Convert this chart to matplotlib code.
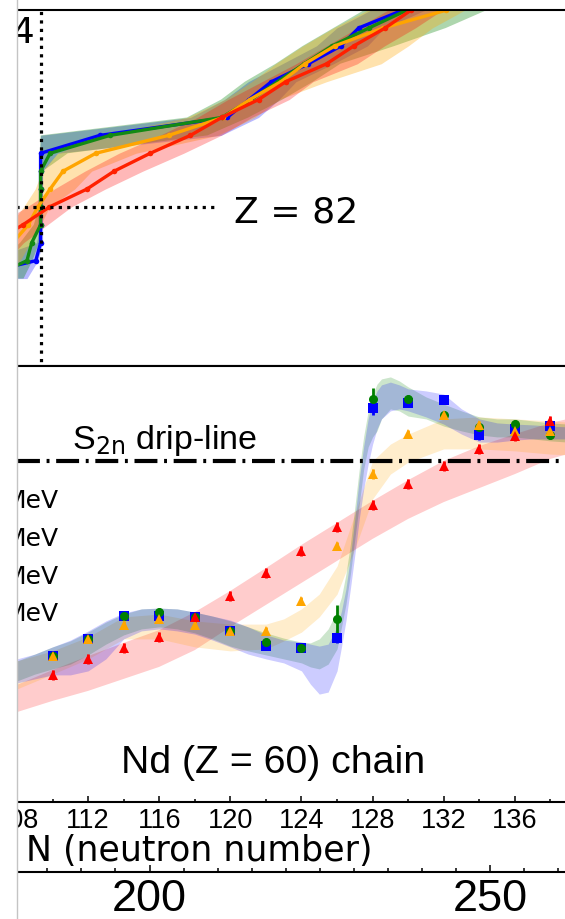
import numpy as np
import matplotlib
matplotlib.use("Agg")
import matplotlib.pyplot as plt
from matplotlib.lines import Line2D
from matplotlib.patches import Rectangle

W, H = 565, 920

# ---------------- drip-line panel: N_drip(Z) for four models ----------------
Z_drip = [74, 76, 78, 80, 82, 84, 86, 88, 90, 92, 94, 96, 98, 100, 102, 104, 106]
N_blue = [172.4, 183.3, 184.0, 184.0, 184.0, 184.0, 184.0, 184.0, 192.7, 211.4,
          214.6, 217.9, 223.3, 228.1, 230.7, 237.2, 242.0]
N_green = [176.4, 182.0, 182.7, 184.0, 184.0, 184.0, 184.0, 185.4, 194.2, 210.6,
           214.9, 218.8, 222.7, 226.8, 232.2, 237.8, 244.0]
N_orange = [176.0, 178.0, 179.9, 182.2, 183.6, 185.4, 187.3, 192.1, 202.8, 210.8,
            214.7, 219.3, 222.8, 227.2, 234.3, 243.6, 250.0]
N_red = [170.0, 173.0, 176.9, 181.4, 185.3, 190.8, 194.8, 200.1, 206.0, 210.6,
         216.0, 220.0, 226.0, 230.0, 234.6, 238.4, 243.0]

blue_lo = [168, 176, 183.4, 183.9, 183.9, 183.9, 183.9, 183.9, 184.0, 206.0, 211.0,
           214.5, 219.5, 224.5, 227.5, 232.5, 237.0]
blue_hi = [182.0, 183.6, 184.3, 184.3, 184.3, 184.3, 184.3, 186.5, 210.5, 216.0, 219.0,
           221.5, 227.0, 232.0, 234.5, 240.5, 246.0]
green_lo = [172, 178, 181.0, 183.0, 183.8, 183.9, 183.9, 183.9, 184.0, 205.5, 210.5,
            214.0, 218.5, 222.5, 227.0, 231.5, 236.0]
green_hi = [181.5, 182.8, 183.8, 184.2, 184.3, 184.3, 184.3, 188.0, 208.5, 214.5, 219.5,
            224.0, 228.0, 236.0, 243.5, 249.5, 255.0]
orange_lo = [171, 175, 177, 179.5, 181.5, 183.2, 184.2, 186.5, 193.0, 205.5, 211.0,
             215.0, 218.5, 222.5, 227.0, 232.0, 237.0]
orange_hi = [178, 181, 182.5, 184.0, 185.3, 189.0, 191.5, 198.0, 210.0, 215.5, 219.0,
             226.0, 234.0, 238.0, 241.5, 246.3, 250.0]
red_lo = [166, 169.5, 173.0, 177.5, 182.0, 186.0, 190.5, 195.5, 201.5, 207.0, 211.5,
          216.5, 221.5, 226.0, 230.5, 235.0, 239.0]
red_hi = [175, 179.0, 181.5, 185.0, 188.5, 193.5, 199.0, 205.0, 210.5, 215.0, 220.5,
          224.0, 230.5, 234.5, 239.0, 243.0, 247.0]

N_magic = 184
Z_magic = 82

# ---------------- Nd chain: S2n (MeV) vs neutron number ----------------
N_nd = [110, 112, 114, 116, 118, 120, 122, 124, 126, 128, 130, 132, 134, 136, 138]
s2n_blue = [-4.89, -4.46, -3.89, -3.89, -3.91, -4.26, -4.64, -4.69, -4.44, 1.31,
            1.44, 1.51, 0.64, 0.79, 0.86]
s2n_green = [-4.89, -4.46, -3.89, -3.79, -3.91, -4.26, -4.54, -4.69, -3.96, 1.54,
             1.54, 1.14, 0.84, 0.91, 0.64]
s2n_orange = [-4.89, -4.46, -4.11, -3.96, -4.11, -4.26, -4.26, -3.51, -2.14, -0.34,
              0.66, 1.14, 0.89, 0.74, 0.74]
s2n_red = [-5.36, -4.96, -4.69, -4.41, -3.91, -3.39, -2.81, -2.26, -1.66, -1.11,
           -0.59, -0.14, 0.29, 0.61, 0.99]
err_blue = [0.1, 0.1, 0.1, 0.1, 0.1, 0.1, 0.1, 0.1, 0.12, 0.18, 0.1, 0.1, 0.12, 0.1, 0.1]
err_green = [0.1, 0.1, 0.1, 0.1, 0.1, 0.1, 0.1, 0.1, 0.36, 0.28, 0.1, 0.1, 0.1, 0.1, 0.1]
err_orange = [0.1, 0.1, 0.1, 0.1, 0.1, 0.1, 0.1, 0.1, 0.1, 0.12, 0.1, 0.1, 0.1, 0.1, 0.1]
err_red = [0.12, 0.12, 0.12, 0.12, 0.12, 0.12, 0.12, 0.12, 0.12, 0.12, 0.12, 0.12,
           0.12, 0.12, 0.12]

# credible bands
N_bg = [108, 109, 110, 111, 112, 113, 114, 115, 116, 117, 118, 119, 120, 121, 122, 123,
        124, 124.5, 125, 125.5, 126, 126.25, 126.5, 126.75, 127, 127.25, 127.5, 127.75,
        128, 128.25, 128.5, 129, 129.5, 130, 131, 132, 133, 134, 135, 136, 137, 138, 139]
band_blue_hi = [-4.96, -4.84, -4.66, -4.49, -4.26, -4.01, -3.81, -3.71, -3.69, -3.71,
                -3.79, -3.89, -3.99, -4.16, -4.36, -4.49, -4.54, -4.59, -4.64, -4.59,
                -4.16, -3.76, -3.21, -2.41, -1.46, -0.46, 0.36, 1.04, 1.49, 1.74, 1.89,
                1.96, 1.89, 1.79, 1.74, 1.66, 1.29, 1.04, 0.94, 0.91, 0.89, 0.86, 0.84]
band_blue_lo = [-5.56, -5.46, -5.36, -5.36, -5.26, -4.96, -4.46, -4.26, -4.21, -4.26,
                -4.34, -4.49, -4.66, -4.84, -4.96, -5.06, -5.26, -5.59, -5.84, -5.79,
                -5.26, -4.66, -4.01, -3.21, -2.36, -1.46, -0.71, -0.09, 0.41, 0.79, 1.04,
                1.24, 1.29, 1.24, 1.09, 0.91, 0.66, 0.46, 0.46, 0.51, 0.54, 0.54, 0.54]
band_green_hi = [-5.01, -4.84, -4.66, -4.51, -4.29, -4.04, -3.84, -3.71, -3.69, -3.71,
                 -3.79, -3.89, -4.01, -4.16, -4.31, -4.44, -4.54, -4.56, -4.46, -4.21,
                 -3.76, -3.41, -2.84, -2.09, -1.16, -0.21, 0.61, 1.24, 1.66, 1.91, 2.04,
                 2.09, 1.99, 1.84, 1.59, 1.41, 1.24, 1.09, 1.04, 1.04, 0.99, 0.94, 0.91]
band_green_lo = [-5.51, -5.34, -5.21, -5.09, -4.86, -4.59, -4.36, -4.21, -4.16, -4.21,
                 -4.31, -4.46, -4.64, -4.76, -4.86, -4.96, -5.06, -5.16, -5.21, -5.09,
                 -4.71, -4.16, -3.59, -2.84, -1.96, -1.09, -0.21, 0.34, 0.59, 0.74, 1.04,
                 1.29, 1.24, 1.11, 1.04, 0.86, 0.74, 0.64, 0.59, 0.59, 0.54, 0.49, 0.46]
N_or = [108, 110, 112, 114, 116, 118, 120, 122, 123, 124, 125, 126, 127, 128, 129, 130,
        132, 134, 136, 138, 139]
band_orange_hi = [-5.01, -4.76, -4.41, -3.91, -3.84, -4.01, -4.09, -4.09, -3.96, -3.71,
                  -3.34, -2.64, -1.34, -0.01, 0.41, 0.66, 1.04, 1.09, 1.04, 0.99, 0.96]
band_orange_lo = [-5.71, -5.34, -4.96, -4.46, -4.46, -4.66, -4.76, -4.71, -4.51, -4.29,
                  -3.91, -3.34, -2.21, -0.96, -0.34, -0.04, 0.29, 0.29, 0.24, 0.16, 0.14]
N_rd = [108, 110, 112, 114, 116, 118, 120, 122, 124, 126, 128, 130, 132, 134, 136, 138, 140]
band_red_hi = [-5.61, -5.24, -4.89, -4.56, -4.24, -3.79, -3.26, -2.69, -2.11, -1.56,
               -1.01, -0.49, -0.01, 0.36, 0.66, 0.94, 1.14]
band_red_lo = [-6.29, -6.01, -5.76, -5.46, -5.16, -4.74, -4.16, -3.61, -3.06, -2.51,
               -1.96, -1.46, -1.04, -0.69, -0.34, 0.04, 0.29]

C_BLUE, C_GREEN, C_ORANGE, C_RED = "#0000ff", "#008000", "#ffa500", "#ff0000"


def fx(px):
    return px / W


def fy(py):
    return 1 - py / H


fig = plt.figure(figsize=(W / 100, H / 100), dpi=100)
left = fx(17)

# ---------------- top panel ----------------
ax1 = fig.add_axes([left, fy(367), 1 - left, (367 - 11) / H])
for lo, hi, c, a in [(blue_lo, blue_hi, C_BLUE, 0.28), (green_lo, green_hi, C_GREEN, 0.32),
                     (orange_lo, orange_hi, C_ORANGE, 0.32), (red_lo, red_hi, C_RED, 0.28)]:
    ax1.fill_betweenx(Z_drip, lo, hi, color=c, alpha=a, lw=0)
for n, c in [(N_blue, C_BLUE), (N_green, "#138a13"), (N_orange, C_ORANGE), (N_red, "#ff2000")]:
    ax1.plot(n, Z_drip, "-o", color=c, lw=2.4, ms=4, mew=0)
ax1.plot([N_magic, N_magic], [60, 110], ls=":", color="black", lw=2.3)
ax1.plot([170, 210], [Z_magic, Z_magic], ls=":", color="black", lw=2.3)
ax1.set_xlim(180.54, 261.0)
ax1.set_ylim(64.23, 104.01)
ax1.set_xticks([])
ax1.set_yticks([])
for s in ("left", "right"):
    ax1.spines[s].set_visible(False)
for s in ("top", "bottom"):
    ax1.spines[s].set_linewidth(1.5)

# ---------------- bottom panel ----------------
ax2 = fig.add_axes([left, fy(803), 1 - left, (803 - 367) / H])
ax2.fill_between(N_rd, band_red_lo, band_red_hi, color=C_RED, alpha=0.2, lw=0)
ax2.fill_between(N_or, band_orange_lo, band_orange_hi, color=C_ORANGE, alpha=0.2, lw=0)
ax2.fill_between(N_bg, band_green_lo, band_green_hi, color=C_GREEN, alpha=0.2, lw=0)
ax2.fill_between(N_bg, band_blue_lo, band_blue_hi, color=C_BLUE, alpha=0.2, lw=0)
ax2.axhline(0, color="black", lw=3, ls=(0, (5.5, 1.6, 0.7, 1.6)))
for y, e, c, m, ms in [(s2n_blue, err_blue, C_BLUE, "s", 6.5),
                       (s2n_green, err_green, C_GREEN, "o", 6.5),
                       (s2n_orange, err_orange, C_ORANGE, "^", 7),
                       (s2n_red, err_red, C_RED, "^", 7.5)]:
    ax2.errorbar(N_nd, y, yerr=e, fmt=m, color=c, ms=ms, mew=0, elinewidth=2,
                 capsize=3.6, capthick=2.6)
ax2.set_xlim(108.17, 138.82)
ax2.set_ylim(-8.5375, 2.3625)
ax2.set_yticks([])
ax2.set_xticks(np.arange(108, 140, 4))
ax2.set_xticks(np.arange(108, 140, 2), minor=True)
ax2.tick_params(axis="x", which="major", direction="in", length=4, width=1.1, pad=3.5,
                labelsize=19.5, labelfontfamily="Liberation Sans")
ax2.tick_params(axis="x", which="minor", direction="in", length=2.2, width=1.1)
for s in ("left", "right"):
    ax2.spines[s].set_visible(False)
for s in ("top", "bottom"):
    ax2.spines[s].set_linewidth(1.5)

# ---------------- neutron-number scale of the drip-line panel ----------------
ax3 = fig.add_axes([left, fy(873), 1 - left, 0.0005])
ax3.set_xlim(180.54, 261.0)
ax3.set_ylim(0, 1)
ax3.set_yticks([])
ax3.set_xticks([200, 250])
ax3.set_xticks(np.arange(185, 261, 5), minor=True)
ax3.tick_params(axis="x", which="major", direction="in", length=5.2, width=1.1, pad=4,
                labelsize=32.5, labelfontfamily="Liberation Sans")
ax3.tick_params(axis="x", which="minor", direction="in", length=2.8, width=1.1)
for s in ("left", "right", "top"):
    ax3.spines[s].set_visible(False)
ax3.spines["bottom"].set_linewidth(1.5)
ax3.patch.set_visible(False)

# ---------------- annotations ----------------
fig.text(fx(234.5), fy(222.7), "Z = 82", fontsize=26, family="DejaVu Sans", va="baseline")
fig.text(fx(34), fy(43), "4", fontsize=25.7, family="DejaVu Sans", ha="right", va="baseline")
fig.text(fx(72), fy(449), r"S$_{\rm 2n}$ drip-line", fontsize=24.5, family="Liberation Sans",
         va="baseline")
for yb in (508, 545.5, 584, 621):
    fig.text(fx(58.5), fy(yb), "MeV", fontsize=18, family="DejaVu Sans", ha="right",
             va="baseline")
fig.text(fx(121), fy(772.7), "Nd (Z = 60) chain", fontsize=28.3, family="Liberation Sans",
         va="baseline")
fig.text(fx(26), fy(860.7), "N (neutron number)", fontsize=25, family="DejaVu Sans",
         va="baseline")

# left margin cut and separator
fig.add_artist(Rectangle((0, 0), left, 1, transform=fig.transFigure, facecolor="white",
                         edgecolor="none", zorder=50))
fig.add_artist(Line2D([left, left], [0, 1], transform=fig.transFigure, color="#c4c4c4",
                      lw=1.0, zorder=51))

fig.savefig("out.png", dpi=100)
